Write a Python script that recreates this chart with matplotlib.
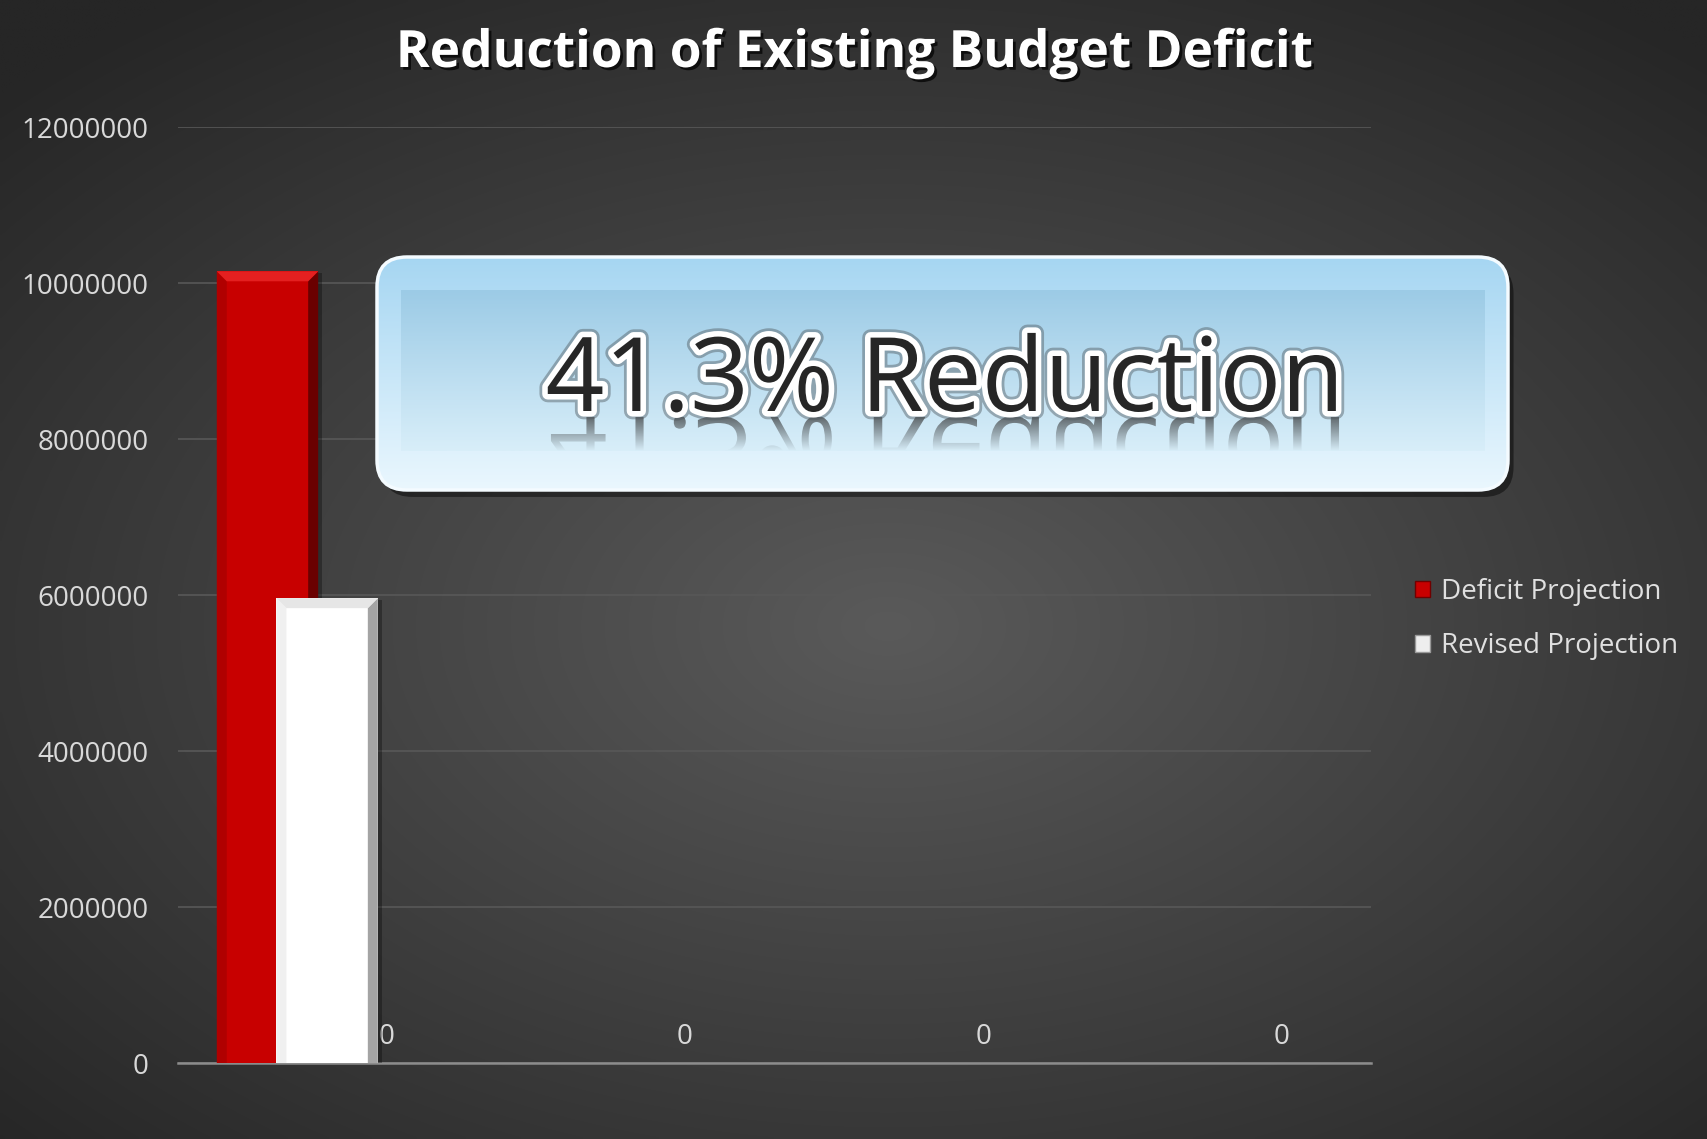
import matplotlib
matplotlib.use("Agg")
import matplotlib.pyplot as plt
import matplotlib.patheffects as pe
from matplotlib.patches import FancyBboxPatch, Patch, Polygon, PathPatch
from matplotlib.textpath import TextPath
from matplotlib.font_manager import FontProperties
from matplotlib.transforms import Affine2D
import numpy as np

# data
categories = ["", "", "", ""]
deficit_projection = [10150000, 0, 0, 0]
revised_projection = [5960000, 0, 0, 0]
blank_series = [0, 0, 0, 0]
y_ticks = [0, 2000000, 4000000, 6000000, 8000000, 10000000, 12000000]
series_names = ["Deficit Projection", "Revised Projection"]
title = "Reduction of Existing Budget Deficit"
callout_text = "41.3% Reduction"

W, H = 1708, 1139
plt.rcParams['font.family'] = ['Open Sans', 'DejaVu Sans']

fig = plt.figure(figsize=(W / 100, H / 100), dpi=100)

# radial dark background
bg = fig.add_axes([0, 0, 1, 1], zorder=-2)
yy, xx = np.mgrid[0:1:300j, 0:1:450j]
r = np.sqrt(((xx - 0.52) / 0.8) ** 2 + ((yy - 0.55) / 0.75) ** 2)
t = np.clip(r / 0.9, 0, 1)[..., None]
c_in = np.array([0x5a, 0x5a, 0x5a]) / 255
c_out = np.array([0x26, 0x26, 0x26]) / 255
bg.imshow(c_in * (1 - t) + c_out * t, extent=(0, 1, 0, 1), aspect='auto', interpolation='bilinear')
bg.axis('off')

# main chart
ax = fig.add_axes([178 / W, 76 / H, 1193 / W, 936 / H], zorder=1)
ax.patch.set_visible(False)
ax.set_xlim(-0.5, len(categories) - 0.5)
ax.set_ylim(0, 12000000)
x = np.arange(len(categories))
bw = 0.34
shadow = [pe.SimplePatchShadow(offset=(3, -1), shadow_rgbFace='black', alpha=0.3), pe.Normal()]
b1 = ax.bar(x - 0.2, deficit_projection, bw, color='#c80000', zorder=3, path_effects=shadow)
b2 = ax.bar(x, revised_projection, bw, color='white', zorder=4, path_effects=shadow)
b3 = ax.bar(x + 0.2, blank_series, bw, color='none', zorder=5)
ax.bar_label(b3, labels=[f"{v:g}" for v in blank_series], padding=9, color='#d9d9d9', fontsize=20)

dx = 10 / (ax.bbox.width / (len(categories)))
dy = 10 / (ax.bbox.height / 12000000)


def bevel(bars, top_c, left_c, right_c, z):
    for b in bars:
        h = b.get_height()
        if h <= 0:
            continue
        x0 = b.get_x()
        x1 = x0 + b.get_width()
        ax.add_patch(Polygon([(x0, 0), (x0, h), (x0 + dx, h - dy), (x0 + dx, 0)], color=left_c, zorder=z, lw=0))
        ax.add_patch(Polygon([(x1, 0), (x1, h), (x1 - dx, h - dy), (x1 - dx, 0)], color=right_c, zorder=z, lw=0))
        ax.add_patch(Polygon([(x0, h), (x1, h), (x1 - dx, h - dy), (x0 + dx, h - dy)], color=top_c, zorder=z, lw=0))


bevel(b1, '#e42020', '#b00000', '#6a0000', 3.1)
bevel(b2, '#e6e6e6', '#f0f0f0', '#a4a4a4', 4.1)

ax.set_yticks(y_ticks)
ax.set_yticklabels([str(v) for v in y_ticks])
ax.set_xticks([])
ax.tick_params(axis='y', length=0, pad=21, labelcolor='#d9d9d9', labelsize=20)
for s in ['top', 'right', 'left']:
    ax.spines[s].set_visible(False)
ax.spines['bottom'].set_color('#8c8c8c')
ax.spines['bottom'].set_linewidth(1.8)
ax.set_axisbelow(True)
ax.yaxis.grid(True, color='#585858', lw=1.2)

handles = [Patch(facecolor='#c80000', edgecolor='#700000'), Patch(facecolor='#eeeeee', edgecolor='#999999')]
fig.legend(handles, series_names, loc='center left', bbox_to_anchor=(1390 / W, 1 - 619 / H),
           frameon=False, fontsize=20, labelcolor='#e0e0e0', handlelength=0.55, handleheight=0.55,
           handletextpad=0.4, labelspacing=0.94)

fig.text(0.5, 1 - 54 / H, title, ha='center', va='center', fontsize=37, fontweight='bold', color='white',
         path_effects=[pe.SimplePatchShadow(offset=(2, -2), shadow_rgbFace='black', alpha=0.7), pe.Normal()])

# callout box
ov = fig.add_axes([0, 0, 1, 1], zorder=5)
ov.set_xlim(0, W)
ov.set_ylim(0, H)
ov.axis('off')
bx0, bx1, by0, by1 = 377, 1508, H - 490, H - 257
box = FancyBboxPatch((bx0, by0), bx1 - bx0, by1 - by0, boxstyle='round,pad=0,rounding_size=30',
                     facecolor='#c0e2f5', edgecolor='none',
                     path_effects=[pe.SimplePatchShadow(offset=(4, -5), shadow_rgbFace='black', alpha=0.45), pe.Normal()])
ov.add_patch(box)
g = np.linspace(0, 1, 100)[:, None, None]
top = np.array([0xa6, 0xd6, 0xf2]) / 255
bot = np.array([0xea, 0xf7, 0xfe]) / 255
im = ov.imshow(top * (1 - g) + bot * g, extent=(bx0, bx1, by0, by1), aspect='auto', zorder=2)
im.set_clip_path(box)
ix0, ix1, iy0, iy1 = 401, 1485, H - 451, H - 290
top2 = np.array([0x9c, 0xcb, 0xe6]) / 255
bot2 = np.array([0xd8, 0xee, 0xf9]) / 255
ov.imshow(top2 * (1 - g) + bot2 * g, extent=(ix0, ix1, iy0, iy1), aspect='auto', zorder=3)
ov.add_patch(FancyBboxPatch((bx0, by0), bx1 - bx0, by1 - by0, boxstyle='round,pad=0,rounding_size=30',
                            facecolor='none', edgecolor='#f4fbff', lw=2.5, zorder=4))

cx, base = 945, H - 411
ov.text(cx, base, callout_text, ha='center', va='baseline', fontsize=74, color='#262626', zorder=6,
        path_effects=[pe.Stroke(linewidth=12, foreground='#505a60', alpha=0.45),
                      pe.Stroke(linewidth=8, foreground='white'), pe.Normal()])

# reflection of the callout text
fp = FontProperties(family='Open Sans', size=74)
tp = TextPath((0, 0), callout_text, prop=fp)
ext = tp.get_extents()
k = 100 / 72
tr = Affine2D().scale(k, -k).translate(cx - (ext.x0 + ext.width / 2) * k, base - 6)
rp = PathPatch(tp, transform=tr + ov.transData, facecolor='none', edgecolor='none')
ov.add_patch(rp)
fade = np.zeros((100, 1, 4))
fade[..., :3] = 0.2
fade[..., 3] = np.linspace(0.7, 0.0, 100)[:, None]
rim = ov.imshow(fade, extent=(ix0, ix1, iy0, base - 6), aspect='auto', zorder=5)
rim.set_clip_path(rp)
ov.set_xlim(0, W)
ov.set_ylim(0, H)

fig.savefig("out.png", dpi=100)
